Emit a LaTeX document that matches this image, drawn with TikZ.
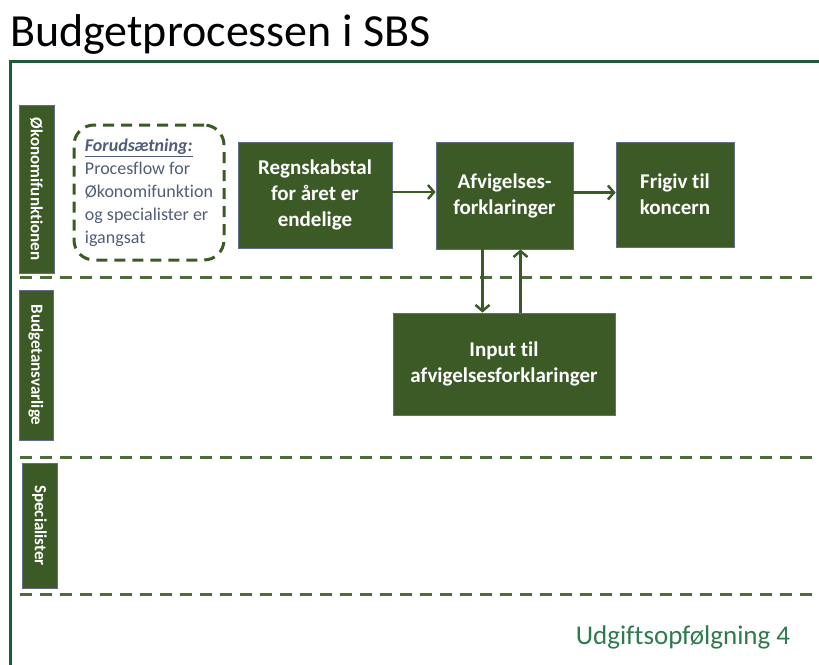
\documentclass[tikz,border=0pt]{standalone}
\usepackage{fontspec}
\setmainfont{Carlito}[Ligatures=NoCommon]
\usepackage{tikz}
\usetikzlibrary{arrows.meta}

\definecolor{boxgreen}{HTML}{3C5A25}
\definecolor{framegreen}{HTML}{1D5C3A}
\definecolor{edgeblue}{HTML}{5E6E8C}
\definecolor{notegray}{HTML}{4F5E78}
\definecolor{footgreen}{HTML}{2E7A4C}

\tikzset{
  stepbox/.style={draw=edgeblue, line width=0.8pt, fill=boxgreen, text=white, inner sep=0pt,
    align=center, font=\fontsize{21}{26}\selectfont\bfseries},
  lanebox/.style={draw=edgeblue, line width=0.8pt, fill=boxgreen, text=white, inner sep=0pt,
    minimum width=35pt},
  lanetext/.style={rotate=-90, text=white, font=\fontsize{17}{19}\selectfont\bfseries},
  laneline/.style={draw=boxgreen!90!white, line width=3pt, dash pattern=on 12pt off 8pt},
  arr/.style={-{Straight Barb[length=6pt,width=14pt]}, draw=boxgreen, line width=2.5pt}
}

\begin{document}
\begin{tikzpicture}[x=1pt, y=-1pt]
\useasboundingbox (0,0) rectangle (819,664);
% Title
\node[anchor=base west, inner sep=0pt, font=\fontsize{46}{50}\selectfont] (title) at (10,46) {Budgetprocessen i SBS};
% Outer frame
\draw[framegreen, line width=3pt] (10,670) -- (10,61) -- (825,61);
% Swimlane separators
\draw[laneline] (20,277) -- (819,277);
\draw[laneline] (20,457) -- (819,457);
\draw[laneline] (20,594) -- (819,594);
% Lane labels
\node[lanebox, minimum height=168pt] (okon) at (36.5,189) {};
\node[lanetext] at (okon) {Økonomifunktionen};
\node[lanebox, minimum width=34pt, minimum height=150pt] (budg) at (36,365) {};
\node[lanetext] at (budg) {Budgetansvarlige};
\node[lanebox, minimum height=125pt] (spec) at (39.5,525.5) {};
\node[lanetext] at (spec) {Specialister};
% Precondition note
\node[draw=boxgreen, line width=3pt, dash pattern=on 11pt off 7pt, rounded corners=20pt,
  minimum width=150pt, minimum height=135pt, text=notegray, align=left, inner sep=0pt,
  font=\fontsize{18}{23}\selectfont] (note) at (149,192.5)
  {\underline{\textbf{\textit{Forudsætning:}}}\\Procesflow for\\Økonomifunktion\\og specialister er\\igangsat};
% Process steps
\node[stepbox, minimum width=154pt, minimum height=106pt] (regn) at (315,195) {Regnskabstal\\for året er\\endelige};
\node[stepbox, minimum width=137pt, minimum height=107pt] (afv) at (504.5,195.5) {Afvigelses-\\forklaringer};
\node[stepbox, minimum width=118pt, minimum height=105pt] (frig) at (675,194.5) {Frigiv til\\koncern};
\node[stepbox, minimum width=222pt, minimum height=102pt] (input) at (504,364) {Input til\\afvigelsesforklaringer};
% Flow arrows
\draw[arr] ([yshift=3pt]regn.east) -- ([yshift=3pt]regn.east -| afv.west);
\draw[arr] ([yshift=3pt]afv.east) -- ([yshift=3pt]afv.east -| frig.west);
\draw[arr] ([xshift=-22pt]afv.south) -- ([xshift=-22pt]afv.south |- input.north);
\draw[arr] ([xshift=16pt]afv.south |- input.north) -- ([xshift=16pt]afv.south);
% Footer
\node[text=footgreen, font=\fontsize{27}{30}\selectfont] (foot) at (683,637) {Udgiftsopfølgning 4};
\end{tikzpicture}
\end{document}
